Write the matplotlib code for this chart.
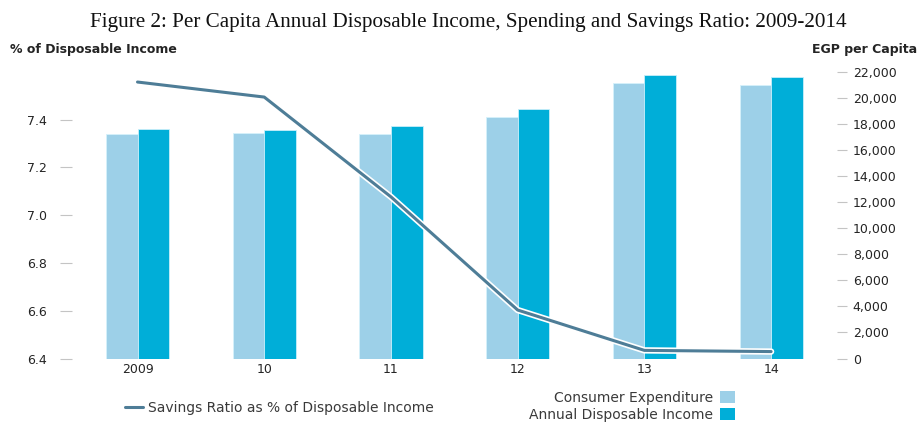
import matplotlib
matplotlib.use("Agg")
import matplotlib.pyplot as plt
import matplotlib.patheffects as pe
from matplotlib.ticker import FuncFormatter
import numpy as np

# Data
years = ["2009", "10", "11", "12", "13", "14"]
consumer_expenditure = [17240, 17340, 17240, 18520, 21150, 20980]   # EGP per capita
disposable_income = [17620, 17570, 17880, 19160, 21750, 21620]      # EGP per capita
savings_ratio = [7.558, 7.495, 7.077, 6.603, 6.434, 6.429]          # % of disposable income
left_ticks = [6.4, 6.6, 6.8, 7.0, 7.2, 7.4]
right_ticks = [0, 2000, 4000, 6000, 8000, 10000, 12000, 14000, 16000, 18000, 20000, 22000]

LIGHT = "#9dd0e8"
DARK = "#00aed8"
LINE = "#4e7d97"
TXT = "#242424"
TICK = "#c4c4c4"

plt.rcParams["font.family"] = ["DejaVu Sans"]

fig = plt.figure(figsize=(9.19, 4.26), dpi=100)
ax = fig.add_axes([72 / 919, 67.5 / 426, 765 / 919, 286.5 / 426])
ax2 = ax.twinx()

x = np.arange(len(years))
w = 0.249
bars_ce = ax2.bar(x - w / 2, consumer_expenditure, width=w, color=LIGHT,
                  edgecolor="#d6f1fb", linewidth=0.6, label="Consumer Expenditure")
bars_di = ax2.bar(x + w / 2, disposable_income, width=w, color=DARK,
                  edgecolor="#c8eefa", linewidth=0.6, label="Annual Disposable Income")

# savings ratio line on the left axis, drawn above the bars
ax.set_zorder(ax2.get_zorder() + 1)
ax.patch.set_visible(False)
line, = ax.plot(x, savings_ratio, color=LINE, linewidth=2.2, solid_capstyle="round",
                solid_joinstyle="round",
                path_effects=[pe.Stroke(linewidth=4.6, foreground="white"), pe.Normal()],
                label="Savings Ratio as % of Disposable Income")

ax.set_xlim(-0.517, 5.52)
ax.set_ylim(6.4, 7.6)
ax2.set_ylim(0, 22000)

for a in (ax, ax2):
    for s in a.spines.values():
        s.set_visible(False)

FS = 9
LFS = 10
ax.set_xticks(x)
ax.set_xticklabels(years)
ax.tick_params(axis="x", length=0, pad=3, labelsize=FS, labelcolor=TXT)
ax.set_yticks(left_ticks)
ax.yaxis.set_major_formatter(FuncFormatter(lambda v, p: f"{v:.1f}"))
ax.tick_params(axis="y", length=8.6, width=0.8, color=TICK, pad=9.4,
               labelsize=FS, labelcolor=TXT)
ax2.set_yticks(right_ticks)
ax2.yaxis.set_major_formatter(FuncFormatter(lambda v, p: f"{int(v):,}"))
ax2.tick_params(axis="y", length=7.4, width=0.8, color=TICK, pad=4,
                labelsize=FS, labelcolor=TXT)

fig.text(468 / 919, 1 - 22 / 426,
         "Figure 2: Per Capita Annual Disposable Income, Spending and Savings Ratio: 2009-2014",
         ha="center", va="center", fontsize=15.2, family="Liberation Serif", color="#111111")
fig.text(10 / 919, 1 - 50 / 426, "% of Disposable Income", ha="left", va="center",
         fontsize=FS, fontweight="bold", color=TXT)
fig.text(917 / 919, 1 - 50 / 426, "EGP per Capita", ha="right", va="center",
         fontsize=FS, fontweight="bold", color=TXT)

leg1 = fig.legend(handles=[line], loc="center left",
                  bbox_to_anchor=(125 / 919, 1 - 408 / 426), frameon=False,
                  borderpad=0, borderaxespad=0, handlelength=1.3, handletextpad=0.36,
                  fontsize=LFS, labelcolor="#3a3a3a")
for h in leg1.legend_handles:
    h.set_path_effects([])
    h.set_linewidth(2.2)

leg2 = fig.legend(handles=[bars_ce, bars_di], loc="center right",
                  bbox_to_anchor=(735 / 919, 1 - 406.4 / 426), frameon=False,
                  borderpad=0, borderaxespad=0, markerfirst=False,
                  handlelength=1.08, handleheight=1.0, handletextpad=0.5,
                  labelspacing=0.22, fontsize=LFS, labelcolor="#3a3a3a")
for h in leg2.legend_handles:
    h.set_linewidth(0)

fig.savefig("out.png", dpi=100)
